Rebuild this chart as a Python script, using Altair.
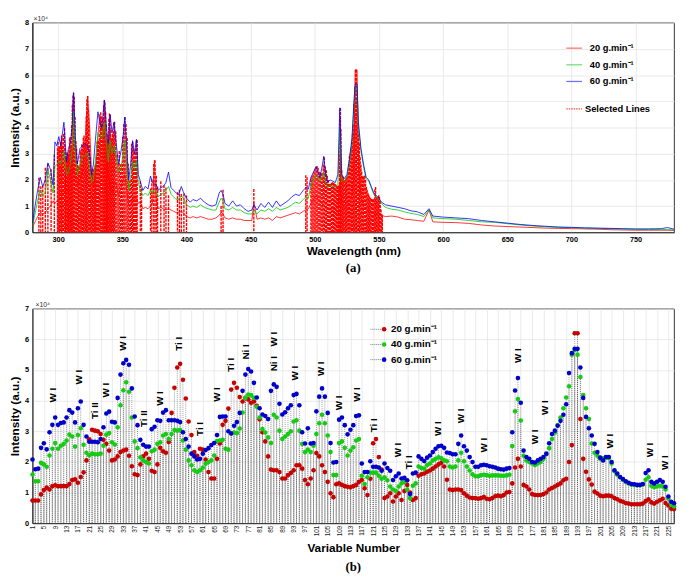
import altair as alt
import pandas as pd
import numpy as np

FONT = "Liberation Sans"
SERIES = ["20 g.min⁻¹", "40 g.min⁻¹", "60 g.min⁻¹"]
COL_A = ["#ff0000", "#00c800", "#0000ff"]
COL_B = ["#c80000", "#14cc14", "#0000cc"]

# ---------------- panel (a): spectra (x10^4 a.u.) ----------------
wl_a = [280, 282, 284, 286, 288, 290, 292, 294, 296, 297.5,
        299, 300.5, 302, 304.5, 306.5, 308, 309.5, 311, 312, 313.5,
        315, 317, 319, 320.5, 322, 323, 324.5, 326, 327.5, 329,
        331, 332.5, 334, 336, 337.5, 339, 340.5, 342, 343.5, 345,
        347, 349, 350.5, 352, 353.5, 355, 356.5, 358, 359.5, 361,
        362.5, 364, 366, 368, 370, 372, 373.5, 375, 376.5, 378,
        380, 382, 384, 386, 388, 390, 392, 394, 396, 397.5,
        400, 403, 405, 408, 411, 414, 417, 420, 423, 425.5,
        427, 428.5, 430, 433, 436, 439, 442, 445, 448, 451,
        452.5, 455, 458, 461, 464, 467, 470, 473, 476, 479,
        482, 485, 488, 491, 493, 495, 497, 499, 501, 502.5,
        504, 505.5, 507, 508.5, 510, 512, 514, 516, 518, 519.5,
        521, 523, 525, 527, 529, 530.5, 531.5, 533, 534, 536,
        538, 540, 542, 544, 546, 548, 550, 552, 555, 560,
        565, 570, 575, 580, 585, 589, 592, 600, 610, 620,
        630, 640, 650, 660, 670, 680, 690, 700, 710, 720,
        730, 740, 750, 760, 770, 775, 780]
int60_a = [0.35, 1.00, 1.60, 2.10, 1.75, 2.00, 2.65, 2.40, 1.80, 3.45,
           3.30, 3.65, 3.30, 4.20, 2.70, 3.20, 3.40, 4.10, 5.33, 3.50,
           2.60, 3.20, 3.30, 3.40, 3.30, 3.30, 3.00, 2.20, 2.60, 3.50,
           4.60, 4.20, 4.00, 5.05, 4.10, 3.40, 4.50, 3.80, 4.20, 3.50,
           2.60, 3.10, 3.60, 4.40, 3.20, 2.00, 2.60, 3.50, 3.00, 3.55,
           2.20, 1.95, 1.60, 1.75, 1.65, 2.15, 1.90, 1.85, 1.80, 1.60,
           1.70, 1.75, 1.90, 2.30, 1.70, 1.60, 1.50, 1.45, 1.75, 1.55,
           1.30, 1.15, 1.25, 1.20, 1.30, 1.15, 1.05, 1.00, 1.05, 1.50,
           1.60, 1.45, 1.10, 1.00, 1.20, 1.00, 1.05, 0.90, 0.80, 0.85,
           1.05, 0.85, 1.10, 0.95, 1.15, 0.95, 1.20, 1.00, 1.10, 1.20,
           1.35, 1.45, 1.40, 1.60, 1.70, 1.65, 2.10, 2.30, 2.50, 2.30,
           2.10, 2.45, 2.90, 2.20, 1.90, 2.00, 1.95, 1.90, 2.20, 4.75,
           2.20, 2.05, 2.20, 2.80, 3.60, 5.00, 5.65, 5.65, 4.20, 3.20,
           2.60, 2.10, 2.00, 1.75, 1.50, 1.40, 1.30, 1.15, 1.05, 1.00,
           0.95, 0.90, 0.82, 0.78, 0.68, 0.90, 0.62, 0.58, 0.55, 0.52,
           0.45, 0.40, 0.35, 0.30, 0.26, 0.23, 0.20, 0.19, 0.17, 0.16,
           0.15, 0.14, 0.13, 0.13, 0.14, 0.18, 0.12]
int40_a = [0.25, 0.70, 1.20, 1.60, 1.40, 1.50, 2.40, 2.00, 1.50, 2.50,
           2.60, 2.70, 2.60, 3.10, 2.20, 2.30, 2.60, 3.20, 4.60, 2.90,
           2.20, 2.60, 2.90, 2.90, 3.00, 3.00, 2.50, 1.90, 2.00, 2.70,
           3.80, 3.70, 3.60, 4.20, 3.40, 2.70, 3.50, 3.00, 3.30, 2.90,
           2.30, 2.40, 3.00, 3.50, 2.50, 1.60, 2.10, 2.70, 2.40, 2.75,
           1.90, 1.60, 1.40, 1.50, 1.40, 1.60, 1.50, 1.65, 1.50, 1.35,
           1.45, 1.50, 1.60, 1.75, 1.45, 1.35, 1.25, 1.25, 1.40, 1.30,
           1.05, 0.95, 1.00, 0.95, 1.05, 0.95, 0.90, 0.85, 0.85, 1.15,
           1.30, 1.20, 0.90, 0.85, 0.95, 0.85, 0.85, 0.75, 0.70, 0.70,
           0.85, 0.70, 0.85, 0.80, 0.90, 0.80, 0.95, 0.85, 0.90, 0.95,
           1.05, 1.15, 1.10, 1.25, 1.35, 1.30, 1.80, 2.00, 2.20, 2.10,
           1.95, 2.10, 2.30, 1.90, 1.70, 1.80, 1.75, 1.75, 1.80, 4.00,
           2.00, 1.95, 2.10, 2.60, 3.40, 4.80, 5.55, 5.50, 4.00, 3.10,
           2.50, 2.05, 1.95, 1.70, 1.45, 1.35, 1.25, 1.10, 0.95, 0.88,
           0.85, 0.78, 0.72, 0.68, 0.60, 0.85, 0.55, 0.52, 0.50, 0.45,
           0.40, 0.38, 0.33, 0.28, 0.24, 0.21, 0.19, 0.18, 0.16, 0.15,
           0.14, 0.12, 0.11, 0.11, 0.10, 0.10, 0.09]
int20_a = [0.20, 0.40, 0.60, 0.75, 0.70, 0.75, 0.90, 1.00, 1.20, 1.10,
           1.20, 1.25, 1.30, 1.50, 2.40, 3.00, 2.20, 2.30, 2.40, 2.10,
           1.80, 2.00, 2.30, 3.00, 4.40, 5.20, 4.10, 2.30, 1.70, 2.20,
           3.70, 4.50, 3.90, 4.10, 3.40, 2.20, 1.75, 1.50, 1.75, 1.90,
           1.40, 1.70, 2.00, 2.20, 1.60, 1.00, 1.00, 1.30, 1.25, 1.35,
           1.10, 1.15, 0.90, 0.95, 0.90, 1.00, 1.10, 2.75, 1.20, 0.90,
           0.95, 0.90, 0.85, 0.90, 0.85, 0.80, 0.75, 0.75, 0.80, 0.75,
           0.60, 0.55, 0.60, 0.55, 0.60, 0.55, 0.50, 0.50, 0.55, 0.65,
           0.75, 0.70, 0.55, 0.50, 0.55, 0.50, 0.50, 0.45, 0.45, 0.45,
           1.15, 0.50, 0.55, 0.50, 0.55, 0.45, 0.60, 0.55, 0.60, 0.65,
           0.70, 0.75, 0.70, 0.80, 0.85, 0.90, 1.10, 1.25, 1.40, 1.30,
           1.20, 1.10, 1.00, 0.95, 0.90, 0.90, 0.85, 0.90, 1.00, 1.80,
           1.15, 0.95, 1.00, 1.20, 1.40, 2.20, 6.20, 6.20, 2.50, 1.40,
           1.00, 0.90, 0.85, 0.75, 0.70, 0.68, 0.72, 0.65, 0.60, 0.62,
           0.58, 0.50, 0.48, 0.45, 0.42, 0.85, 0.40, 0.38, 0.37, 0.34,
           0.28, 0.24, 0.22, 0.20, 0.18, 0.16, 0.15, 0.14, 0.13, 0.12,
           0.10, 0.09, 0.08, 0.08, 0.08, 0.08, 0.07]

# wavelengths (nm) of the 227 selected lines, in variable order
sel_wl = [285.0, 286.5, 288.0, 290.0, 292.0, 294.5, 297.0,
          299.5, 300.0, 300.6, 301.1, 301.6, 302.1, 302.6, 303.1, 303.6, 304.2,
          305.0, 305.5, 305.9, 306.4, 306.8, 307.2, 307.6, 308.0, 308.5, 308.9,
          309.3, 309.7, 310.1, 310.5, 311.0, 311.5,
          312.0, 312.6, 313.2, 313.8, 314.4, 314.9, 315.5, 316.0, 316.6, 317.2,
          317.8, 318.4, 319.0, 319.6, 320.2, 320.8, 321.3, 321.9, 322.4,
          323.0, 323.6, 324.1, 324.6, 325.1, 325.6, 326.2, 326.8, 327.3, 327.8,
          328.3, 328.8, 329.3, 329.8, 330.4, 330.9, 331.5, 332.0, 332.6, 333.2,
          333.8, 334.3, 334.9, 335.5,
          336.0, 336.5, 337.0, 337.4, 337.8, 338.2, 338.6, 339.0, 339.5,
          340.0, 340.5, 341.0, 341.5, 342.0, 342.5, 343.0, 343.5,
          344.0, 344.9, 345.8, 346.7, 347.6, 348.5, 349.4, 350.3, 351.2,
          352.0, 352.9, 353.8, 354.6, 355.4, 356.3, 357.2,
          358.0, 358.6, 359.2, 359.8, 360.4, 361.0, 361.6,
          364.0, 365.0, 372.0, 373.0, 374.5, 375.5, 376.5, 377.5, 380.0, 382.5,
          384.0, 386.0, 393.0, 394.5, 396.0, 398.0, 400.0, 427.0, 428.5, 452.5,
          493.0, 494.0, 497.0, 497.8, 498.6, 499.4, 500.2, 501.0, 501.8, 502.6,
          503.4, 504.2, 505.0, 505.8, 506.6, 507.4, 508.2, 509.0, 509.8, 510.6,
          511.4, 512.2, 513.0, 513.8, 514.6, 515.2, 515.8, 516.4, 517.0, 517.6,
          518.2, 518.6, 519.0, 519.3,
          519.6, 520.0, 520.4, 521.0, 521.6, 522.2, 522.8, 523.4, 524.0, 524.6,
          525.2, 525.8, 526.4, 527.0, 527.6, 528.2, 528.8, 529.4, 530.0, 530.6,
          531.2,
          531.8, 532.4, 533.0, 533.6, 534.2, 534.8, 535.4, 536.0, 536.6, 537.2,
          537.8, 538.4, 539.0, 539.6, 540.2, 540.8, 541.4, 542.0, 542.6, 543.2,
          543.8, 544.4, 545.0, 545.6, 546.2, 546.8, 547.4, 548.0, 548.6, 549.2,
          549.8, 550.4, 551.0, 551.6, 552.2, 552.6]

# ---------------- panel (b): intensities at the 227 variables (x10^4) ----------------
int60_b = [2.08, 1.76, 1.78, 2.46, 2.61, 2.41, 2.97, 3.21, 3.45, 3.21,
           3.27, 3.29, 3.45, 3.69, 3.61, 3.29, 3.75, 3.97, 3.21, 2.83,
           2.66, 2.66, 2.66, 2.64, 2.75, 3.13, 3.58, 3.64, 3.31, 3.29,
           4.09, 4.85, 5.22, 5.33, 5.17, 4.40, 3.48, 3.20, 2.72, 2.56,
           2.50, 2.50, 3.07, 3.15, 3.36, 3.34, 3.61, 3.69, 3.36, 3.36,
           3.36, 3.34, 3.30, 2.97, 2.75, 2.50, 2.27, 2.18, 2.08, 2.10,
           2.27, 2.39, 2.45, 2.55, 2.62, 2.88, 3.47, 3.48, 3.48, 3.00,
           2.93, 3.18, 3.30, 3.60, 4.32, 4.85, 5.03, 4.95, 4.58, 4.10,
           3.75, 3.55, 3.50, 3.40, 4.32, 4.53, 4.45, 3.90, 3.55, 3.62,
           3.75, 3.85, 4.18, 4.22, 3.85, 2.97, 2.60, 3.10, 2.60, 2.62,
           3.65, 4.13, 4.40, 4.13, 3.60, 2.62, 1.98, 2.00, 3.38, 3.45,
           3.20, 2.90, 3.05, 3.20, 3.50, 3.52, 1.95, 1.67, 1.67, 2.02,
           1.84, 1.84, 1.82, 1.71, 1.95, 1.80, 1.71, 1.41, 1.53, 1.62,
           1.46, 1.48, 1.40, 0.95, 1.62, 1.65, 2.18, 2.10, 2.03, 2.14,
           2.21, 2.32, 2.43, 2.51, 2.53, 2.46, 2.31, 2.29, 2.25, 2.25,
           2.59, 2.86, 2.51, 2.37, 2.16, 2.00, 1.84, 1.84, 1.89, 1.91,
           1.89, 1.86, 1.84, 1.82, 1.78, 1.76, 1.75, 1.78, 1.80, 2.97,
           4.33, 4.74, 3.93, 2.37, 2.16, 2.10, 2.00, 1.98, 2.05, 2.10,
           2.16, 2.27, 2.61, 2.91, 3.02, 3.18, 3.34, 3.54, 3.88, 4.90,
           5.55, 5.69, 5.69, 5.08, 4.09, 3.47, 3.10, 2.86, 2.59, 2.32,
           2.14, 2.05, 2.16, 2.16, 2.00, 1.73, 1.62, 1.51, 1.44, 1.37,
           1.32, 1.28, 1.27, 1.25, 1.25, 1.28, 1.64, 1.73, 1.35, 1.30,
           1.35, 1.41, 1.35, 1.19, 0.87, 0.70, 0.65]
int40_b = [1.59, 1.37, 1.37, 1.97, 1.92, 1.84, 2.21, 2.43, 2.62, 2.43,
           2.53, 2.59, 2.70, 2.89, 2.83, 2.50, 2.88, 3.10, 2.56, 2.30,
           2.22, 2.27, 2.25, 2.25, 2.27, 2.53, 2.89, 2.94, 2.64, 2.57,
           3.13, 3.85, 4.34, 4.60, 4.29, 3.45, 2.67, 2.45, 2.15, 2.05,
           2.00, 1.95, 2.35, 2.40, 2.59, 2.64, 2.86, 2.91, 2.75, 2.91,
           3.04, 3.02, 3.04, 2.70, 2.40, 2.05, 1.89, 1.73, 1.67, 1.73,
           1.81, 1.94, 2.00, 2.05, 2.21, 2.68, 2.70, 2.72, 2.43, 2.40,
           2.94, 2.96, 2.94, 3.09, 3.61, 4.09, 4.20, 4.18, 4.09, 3.80,
           3.45, 3.07, 2.96, 2.80, 2.62, 3.54, 3.45, 3.02, 2.75, 2.83,
           2.91, 3.00, 3.32, 3.36, 3.02, 2.59, 2.32, 2.40, 2.32, 2.53,
           2.91, 3.26, 3.54, 3.26, 2.86, 2.32, 1.57, 1.57, 2.62, 2.67,
           2.46, 2.21, 2.37, 2.48, 2.70, 2.75, 1.55, 1.28, 1.50, 1.65,
           1.65, 1.65, 1.55, 1.45, 1.50, 1.40, 1.20, 1.10, 1.05, 1.20,
           1.30, 1.35, 1.10, 0.82, 1.22, 1.30, 1.85, 1.80, 1.78, 1.90,
           1.95, 2.05, 2.10, 2.15, 2.12, 2.05, 2.02, 1.85, 1.82, 1.85,
           2.05, 2.30, 2.02, 1.85, 1.72, 1.60, 1.53, 1.53, 1.57, 1.58,
           1.57, 1.55, 1.56, 1.56, 1.56, 1.55, 1.55, 1.56, 1.58, 2.52,
           3.65, 4.05, 3.35, 2.20, 2.05, 2.00, 1.95, 1.90, 1.95, 2.00,
           2.10, 2.25, 2.45, 2.75, 2.95, 3.20, 3.45, 3.75, 4.10, 4.47,
           5.50, 5.65, 5.50, 4.77, 4.18, 3.75, 3.40, 2.60, 2.30, 2.20,
           2.10, 2.12, 2.14, 2.12, 1.95, 1.70, 1.58, 1.50, 1.42, 1.35,
           1.30, 1.26, 1.25, 1.24, 1.24, 1.26, 1.42, 1.50, 1.22, 1.18,
           1.20, 1.22, 1.20, 1.10, 0.80, 0.60, 0.55]
int20_b = [0.74, 0.74, 0.74, 0.94, 1.08, 1.16, 1.10, 1.21, 1.24, 1.21,
           1.21, 1.21, 1.21, 1.28, 1.41, 1.43, 1.32, 1.51, 1.66, 2.05,
           2.74, 3.05, 3.02, 3.00, 2.91, 2.72, 2.59, 2.37, 2.05, 2.08,
           2.18, 2.32, 2.37, 2.40, 2.20, 1.86, 1.60, 1.57, 1.92, 2.18,
           2.27, 2.10, 1.71, 1.67, 1.92, 2.46, 2.35, 2.30, 2.65, 3.60,
           4.42, 5.08, 5.20, 4.68, 4.07, 3.32, 2.88, 2.32, 2.20, 2.43,
           2.40, 2.08, 1.67, 1.46, 1.46, 2.10, 2.60, 3.21, 3.34, 3.74,
           4.36, 4.58, 4.42, 4.12, 3.97, 4.09, 4.04, 3.93, 3.97, 3.83,
           3.39, 2.97, 2.67, 2.18, 1.75, 1.73, 1.73, 1.67, 1.46, 1.46,
           1.57, 1.64, 1.73, 1.89, 1.89, 1.78, 1.41, 1.27, 1.46, 1.73,
           2.29, 2.18, 1.89, 1.67, 1.35, 0.98, 0.85, 1.27, 1.30, 1.25,
           1.21, 1.19, 1.17, 1.21, 1.25, 1.35, 1.41, 1.14, 0.92, 1.45,
           2.61, 2.75, 2.16, 1.75, 0.82, 0.87, 0.98, 0.71, 0.87, 0.98,
           0.76, 1.05, 1.25, 1.00, 0.76, 0.82, 1.55, 1.60, 1.62, 1.68,
           1.72, 1.78, 1.85, 1.92, 1.97, 1.85, 1.42, 1.10, 1.08, 1.10,
           1.10, 1.08, 0.98, 0.90, 0.84, 0.82, 0.82, 0.80, 0.82, 0.85,
           0.80, 0.78, 0.82, 0.88, 0.90, 0.88, 0.92, 1.00, 1.02, 1.30,
           1.82, 2.10, 1.85, 1.25, 1.20, 1.10, 0.95, 0.92, 0.92, 0.92,
           0.95, 1.00, 1.10, 1.15, 1.20, 1.25, 1.30, 1.40, 1.45, 2.00,
           2.55, 6.20, 6.20, 3.40, 2.10, 1.68, 1.43, 1.26, 1.03, 0.97,
           0.90, 0.88, 0.90, 0.90, 0.88, 0.82, 0.78, 0.73, 0.70, 0.66,
           0.64, 0.62, 0.62, 0.62, 0.62, 0.64, 0.72, 0.78, 0.68, 0.64,
           0.70, 0.75, 0.80, 0.66, 0.58, 0.47, 0.46]

# line identifications written above the peaks of panel (b)
ann_v = [8.3, 17.4, 23.0, 27.0, 33.0, 40.3, 45.8, 52.6, 60.2, 65.9,
         70.9, 76.4, 86.2, 86.2, 93.5, 102.5, 108.9, 115.4, 121.4, 129.9,
         133.7, 144.0, 151.8, 160.0, 172.2, 178.2, 181.7, 204.3, 218.5, 223.7]
ann_y = [3.94, 4.53, 3.40, 4.10, 5.63, 3.14, 3.83, 5.63, 2.85, 3.96,
         4.94, 5.34, 4.96, 5.77, 4.66, 4.80, 3.69, 3.96, 2.97, 2.15,
         1.76, 2.85, 3.26, 2.31, 5.23, 2.58, 3.53, 2.44, 2.15, 1.74]
ann_txt = ["W I", "W I", "Ti II", "W I", "W I", "Ti II", "W I", "Ti I", "Ti I", "W I",
           "Ti I", "Ni I", "Ni I", "W I", "W I", "W I", "W I", "W I", "Ti I", "W I",
           "Ti I", "W I", "W I", "W I", "W I", "W I", "W I", "W I", "W I", "W I"]

assert len(wl_a) == len(int60_a) == len(int40_a) == len(int20_a)
assert len(sel_wl) == len(int60_b) == len(int40_b) == len(int20_b) == 227
assert len(ann_v) == len(ann_y) == len(ann_txt)

variables = list(range(1, 228))
df_spec = pd.DataFrame({"wl": wl_a, "s20": int20_a, "s40": int40_a, "s60": int60_a})
df_b = pd.DataFrame({"v": variables, "s20": int20_b, "s40": int40_b, "s60": int60_b})
df_sel = pd.DataFrame({"wl": sel_wl, "top": np.max(np.array([int20_b, int40_b, int60_b]), axis=0)})
df_ann = pd.DataFrame({"v": ann_v, "y": ann_y, "txt": ann_txt})
COLS = ["s20", "s40", "s60"]

W = 655
HA = 214
HB = 219

# ---------------- panel (a) ----------------
xa_scale = alt.Scale(domain=[280, 780], nice=False, zero=False)
ya_scale = alt.Scale(domain=[0, 8], nice=False)
xa_axis = alt.Axis(values=list(range(300, 751, 50)), title="Wavelength  (nm)", grid=True,
                   labelFontSize=7.5, labelFontWeight="bold", titleFontSize=12,
                   titleFontWeight="bold", labelPadding=3, titlePadding=3)
ya_axis = alt.Axis(values=list(range(0, 9)), title="Intensity  (a.u.)", grid=True,
                   labelFontSize=7.5, labelFontWeight="bold", titleFontSize=12,
                   titleFontWeight="bold", labelPadding=4, titlePadding=3)

layers_a = [
    alt.Chart(df_sel).mark_rule(color="#ff0000", strokeWidth=1.4, strokeDash=[3, 1]).encode(
        x=alt.X("wl:Q", scale=xa_scale, axis=xa_axis),
        y=alt.Y("top:Q", scale=ya_scale, axis=ya_axis),
        y2=alt.datum(0))
]
for col, c in zip(COLS, COL_A):
    layers_a.append(
        alt.Chart(df_spec).mark_line(color=c, strokeWidth=0.8, clip=True).encode(
            x=alt.X("wl:Q", scale=xa_scale, axis=xa_axis),
            y=alt.Y(f"{col}:Q", scale=ya_scale, axis=ya_axis)))

leg_rows_a = [26, 43, 60]
for lab, c, yy in zip(SERIES, COL_A, leg_rows_a):
    d = pd.DataFrame({"t": [lab]})
    layers_a.append(alt.Chart(d).mark_rule(color=c, strokeWidth=1.3, opacity=0.55).encode(
        x=alt.value(545), x2=alt.value(561), y=alt.value(yy)))
    layers_a.append(alt.Chart(d).mark_text(align="left", baseline="middle", fontSize=9.5,
                                           fontWeight="bold", font=FONT, color="black").encode(
        x=alt.value(569), y=alt.value(yy), text="t:N"))
d_sel = pd.DataFrame({"t": ["Selected Lines"]})
layers_a.append(alt.Chart(d_sel).mark_rule(color="#ff0000", strokeWidth=1.5, strokeDash=[1.5, 1],
                                           opacity=0.7).encode(
    x=alt.value(545), x2=alt.value(561), y=alt.value(88)))
layers_a.append(alt.Chart(d_sel).mark_text(align="left", baseline="middle", fontSize=9.5,
                                           fontWeight="bold", font=FONT, color="black").encode(
    x=alt.value(564), y=alt.value(88), text="t:N"))
layers_a.append(alt.Chart(pd.DataFrame({"t": ["×10⁴"]})).mark_text(
    align="left", baseline="bottom", fontSize=7, font=FONT, color="#333").encode(
    x=alt.value(1), y=alt.value(-1), text="t:N"))

chart_a = alt.layer(*layers_a).properties(
    width=W, height=HA,
    title=alt.TitleParams("(a)", orient="bottom", font="Liberation Serif", fontSize=13,
                          fontWeight="bold", offset=6, color="black"))

# ---------------- panel (b) ----------------
xb_scale = alt.Scale(domain=[1, 227], nice=False, zero=False)
yb_scale = alt.Scale(domain=[0, 7], nice=False)
xb_axis = alt.Axis(values=list(range(1, 226, 4)), labelAngle=270, labelFontSize=6.5,
                   title="Variable Number", titleFontSize=12, titleFontWeight="bold",
                   labelPadding=2, titlePadding=7, grid=True, labelOverlap=False,
                   labelFlush=False, labelColor="#222")
yb_axis = alt.Axis(values=list(range(0, 8)), title="Intensity  (a.u.)", grid=True,
                   labelFontSize=7.5, labelFontWeight="bold", titleFontSize=12,
                   titleFontWeight="bold", labelPadding=4, titlePadding=3)

layers_b = []
for col in COLS:
    layers_b.append(alt.Chart(df_b).mark_rule(color="#444", strokeWidth=0.5,
                                              strokeDash=[1, 1]).encode(
        x=alt.X("v:Q", scale=xb_scale, axis=xb_axis),
        y=alt.Y(f"{col}:Q", scale=yb_scale, axis=yb_axis),
        y2=alt.datum(0)))
for col, c in zip(COLS, COL_B):
    layers_b.append(alt.Chart(df_b).mark_circle(size=22, color=c, opacity=1).encode(
        x=alt.X("v:Q", scale=xb_scale, axis=xb_axis),
        y=alt.Y(f"{col}:Q", scale=yb_scale, axis=yb_axis)))
layers_b.append(alt.Chart(df_ann).mark_text(angle=270, align="left", baseline="middle",
                                            fontSize=10, fontWeight="bold", font=FONT,
                                            color="black").encode(
    x=alt.X("v:Q", scale=xb_scale, axis=xb_axis),
    y=alt.Y("y:Q", scale=yb_scale, axis=yb_axis),
    text="txt:N"))
leg_rows_b = [21, 36.5, 52]
for lab, c, yy in zip(SERIES, COL_B, leg_rows_b):
    d = pd.DataFrame({"t": [lab]})
    layers_b.append(alt.Chart(d).mark_rule(color="#555", strokeWidth=0.8,
                                           strokeDash=[1, 1]).encode(
        x=alt.value(345), x2=alt.value(359), y=alt.value(yy)))
    layers_b.append(alt.Chart(d).mark_circle(size=22, color=c, opacity=1).encode(
        x=alt.value(359), y=alt.value(yy)))
    layers_b.append(alt.Chart(d).mark_text(align="left", baseline="middle", fontSize=10,
                                           fontWeight="bold", font=FONT, color="black").encode(
        x=alt.value(366), y=alt.value(yy), text="t:N"))
layers_b.append(alt.Chart(pd.DataFrame({"t": ["×10⁴"]})).mark_text(
    align="left", baseline="bottom", fontSize=7, font=FONT, color="#333").encode(
    x=alt.value(3), y=alt.value(-1), text="t:N"))

chart_b = alt.layer(*layers_b).properties(
    width=W, height=HB,
    title=alt.TitleParams("(b)", orient="bottom", font="Liberation Serif", fontSize=13,
                          fontWeight="bold", offset=8, color="black"))

chart = alt.vconcat(chart_a, chart_b, spacing=25,
                    padding={"left": 0, "right": 0, "top": 0, "bottom": 0}).configure_axis(
    labelFont=FONT, titleFont=FONT, domainColor="black", domainWidth=0.8,
    gridColor="#e4e4e4", gridWidth=0.8, ticks=False, labelColor="black", titleColor="black"
).configure_view(stroke="black", strokeWidth=0.8)

chart.save("out.html", embed_options={"renderer": "svg", "actions": False})
